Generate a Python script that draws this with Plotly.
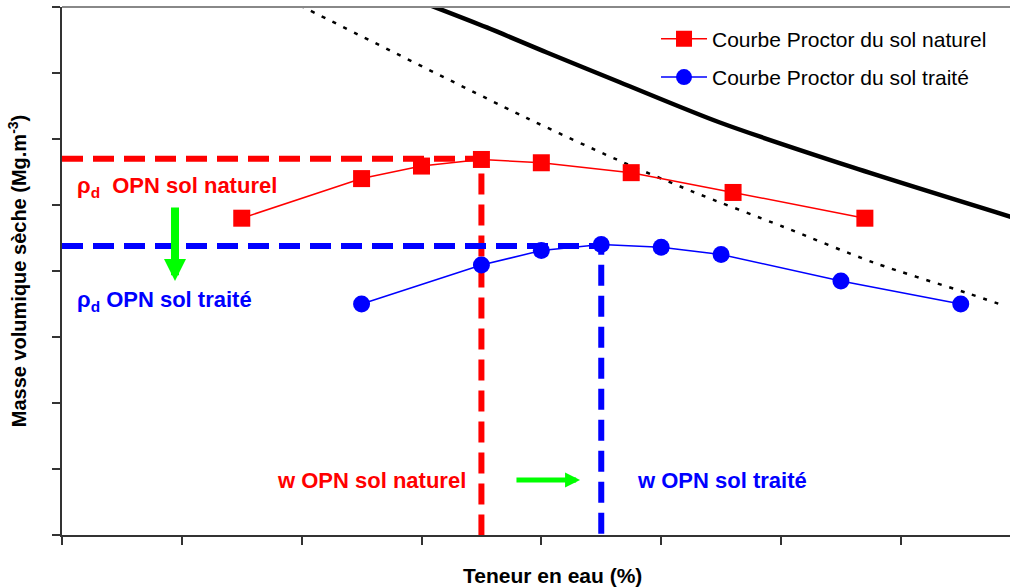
import plotly.graph_objects as go

# ---- data (axes carry no tick labels) ----
w_nat = [1.5, 2.5, 3.0, 3.5, 4.0, 4.75, 5.6, 6.7]
rho_nat = [4.80, 5.40, 5.59, 5.69, 5.64, 5.49, 5.19, 4.80]

w_tr = [2.5, 3.5, 4.0, 4.5, 5.0, 5.5, 6.5, 7.5]
rho_tr = [3.50, 4.09, 4.31, 4.40, 4.36, 4.25, 3.85, 3.50]

w_sat = [2.95, 3.545, 4.046, 4.655, 5.49, 6.60, 7.92]
rho_sat = [8.11, 7.69, 7.31, 6.86, 6.25, 5.57, 4.82]

w_dot = [1.9, 2.0, 3.876, 4.628, 5.267, 6.018, 6.77, 7.549, 7.87]
rho_dot = [8.10, 8.01, 6.32, 5.69, 5.20, 4.67, 4.13, 3.668, 3.47]

w_opn_nat, rho_opn_nat = 3.5, 5.70
w_opn_tr, rho_opn_tr = 4.5, 4.38

x_ticks = list(range(0, 8))
y_ticks = list(range(0, 9))

RED = "#ff0000"
BLUE = "#0000ff"
GREEN = "#00ff00"
FONT = "Liberation Sans, Arial, sans-serif"

fig = go.Figure()

# saturation-type curves
fig.add_trace(go.Scatter(x=w_sat, y=rho_sat, mode="lines",
                         line=dict(color="black", width=4.5, shape="spline", smoothing=0.8),
                         showlegend=False, hoverinfo="skip"))
fig.add_trace(go.Scatter(x=w_dot, y=rho_dot, mode="lines",
                         line=dict(color="black", width=2.5, dash="4px,8px", shape="spline", smoothing=0.8),
                         showlegend=False, hoverinfo="skip"))

# OPN reference dashed lines
fig.add_trace(go.Scatter(x=[0, w_opn_nat, w_opn_nat], y=[rho_opn_nat, rho_opn_nat, 0], mode="lines",
                         line=dict(color=RED, width=6, dash="21px,10px"), showlegend=False, hoverinfo="skip"))
fig.add_trace(go.Scatter(x=[0, w_opn_tr, w_opn_tr], y=[rho_opn_tr, rho_opn_tr, 0], mode="lines",
                         line=dict(color=BLUE, width=6, dash="21px,10px"), showlegend=False, hoverinfo="skip"))

# Proctor curves
fig.add_trace(go.Scatter(x=w_nat, y=rho_nat, mode="lines+markers", name="Courbe Proctor du sol naturel",
                         line=dict(color=RED, width=1.5),
                         marker=dict(symbol="square", size=17, color=RED), legendgroup="a"))
fig.add_trace(go.Scatter(x=w_tr, y=rho_tr, mode="lines+markers", name="Courbe Proctor du sol traité",
                         line=dict(color=BLUE, width=1.5),
                         marker=dict(symbol="circle", size=17, color=BLUE), legendgroup="b"))

axis_common = dict(showticklabels=False, ticks="outside", ticklen=8, tickwidth=2, tickcolor="#333333",
                   showline=True, linecolor="#333333", linewidth=2, showgrid=False, zeroline=False)

fig.update_layout(
    width=1010, height=587,
    margin=dict(l=62, r=0, t=7, b=52),
    plot_bgcolor="white", paper_bgcolor="white",
    font=dict(family=FONT, color="black"),
    xaxis=dict(range=[0, 7.911], tickvals=x_ticks, **axis_common),
    yaxis=dict(range=[0, 8], tickvals=y_ticks,
               title=dict(text="<b>Masse volumique sèche (Mg.m<sup>-3</sup>)</b>",
                          font=dict(size=20, family=FONT, color="black"), standoff=20),
               **axis_common),
    legend=dict(x=0.6266, y=0.978, xanchor="left", yanchor="top", bgcolor="rgba(0,0,0,0)",
                font=dict(size=21, family=FONT, color="black"), itemwidth=46, tracegroupgap=8,
                borderwidth=0),
    shapes=[dict(type="line", xref="paper", yref="paper", x0=0, x1=1, y0=1, y1=1,
                 line=dict(color="#888888", width=2))],
)

ann = [
    dict(text="<b>ρ<sub>d</sub>\u00a0\u00a0OPN sol naturel</b>", x=0.106, y=5.28, font=dict(color=RED, size=22)),
    dict(text="<b>ρ<sub>d</sub> OPN sol traité</b>", x=0.106, y=3.54, font=dict(color=BLUE, size=22)),
    dict(text="<b>w OPN sol naturel</b>", x=1.777, y=0.833, font=dict(color=RED, size=22)),
    dict(text="<b>w OPN sol traité</b>", x=4.78, y=0.833, font=dict(color=BLUE, size=22)),
]
for a in ann:
    fig.add_annotation(xref="x", yref="y", xanchor="left", yanchor="middle", showarrow=False,
                       font_family=FONT, **a)

# green arrows
fig.add_annotation(x=0.943, y=3.85, ax=0.943, ay=4.985, xref="x", yref="y", axref="x", ayref="y",
                   text="", showarrow=True, arrowhead=2, arrowwidth=8, arrowsize=0.55, arrowcolor=GREEN)
fig.add_annotation(x=4.323, y=0.833, ax=3.78, ay=0.833, xref="x", yref="y", axref="x", ayref="y",
                   text="", showarrow=True, arrowhead=2, arrowwidth=5, arrowsize=0.6, arrowcolor=GREEN)

# x-axis title
fig.add_annotation(text="<b>Teneur en eau (%)</b>", x=4.097, y=-0.0758, xref="x", yref="paper",
                   xanchor="center", yanchor="middle", showarrow=False,
                   font=dict(size=21, family=FONT, color="black"))

fig.write_html("out.html", config={"displayModeBar": False},
               post_script="document.body.style.margin='0';document.body.style.overflow='hidden';")
